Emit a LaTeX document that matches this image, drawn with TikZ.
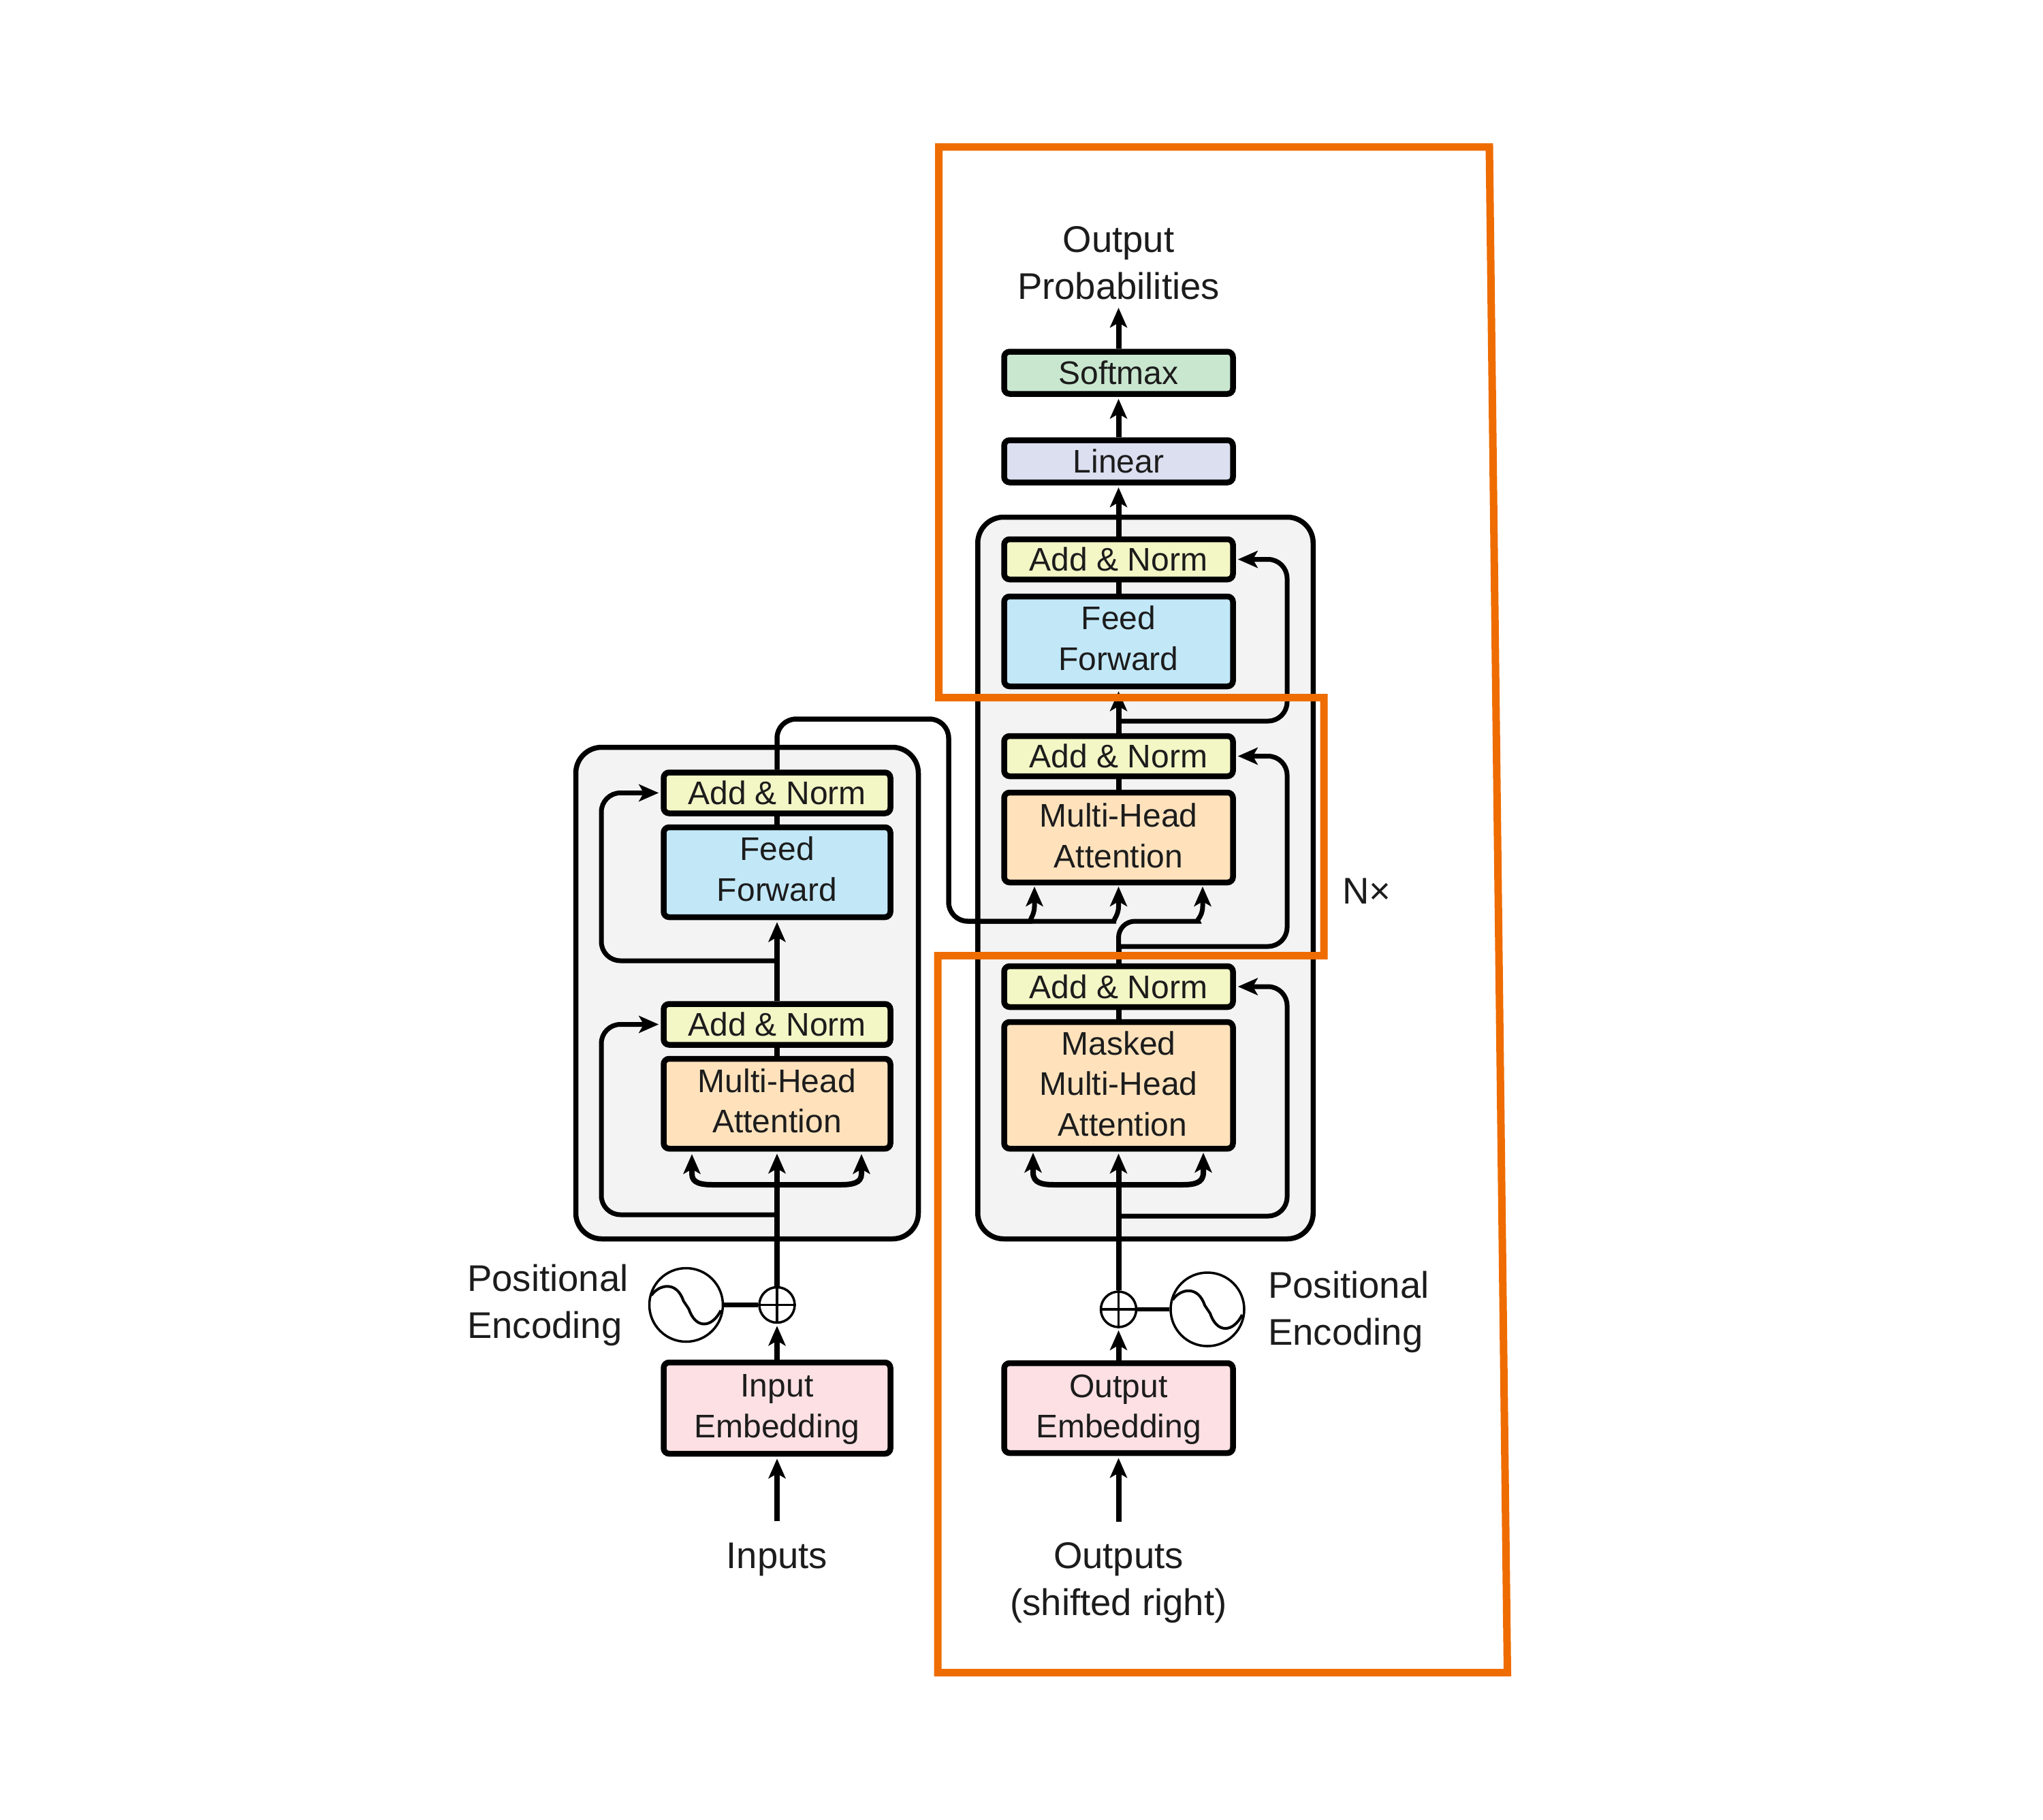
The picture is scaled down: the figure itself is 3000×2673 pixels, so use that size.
\documentclass[tikz,border=0pt]{standalone}
\usepackage{fontspec}
\setmainfont{Liberation Sans}
\usetikzlibrary{arrows.meta,calc}
\definecolor{inkc}{HTML}{1C1C1C}
\definecolor{orangec}{HTML}{EE6C00}
\definecolor{grayc}{HTML}{F3F3F3}
\definecolor{addc}{HTML}{F3F6C5}
\definecolor{ffc}{HTML}{C2E8F8}
\definecolor{mhac}{HTML}{FFE2BC}
\definecolor{embc}{HTML}{FDE0E3}
\definecolor{softc}{HTML}{C9E7CF}
\definecolor{linc}{HTML}{DCDFF0}
\tikzset{
  x=1pt,y=-1pt,
  boxbase/.style={draw=black,line width=8.5pt,rounded corners=8pt,inner sep=0pt,align=center,text=inkc,
    font=\fontsize{48}{59.5}\selectfont},
  decw/.style={boxbase,minimum width=336pt},
  encw/.style={boxbase,minimum width=333pt},
  oneline/.style={minimum height=#1},
  twoline/.style={minimum height=#1,text depth=6pt},
  container/.style={draw=black,fill=grayc,line width=7.5pt,rounded corners=38pt,inner sep=0pt},
  conn/.style={draw=black,line width=8pt,-{Stealth[length=29pt,width=25pt,inset=7pt]},shorten >=3pt},
  plainconn/.style={draw=black,line width=8pt},
  skipconn/.style={draw=black,line width=7pt,rounded corners=28pt,-{Stealth[length=29pt,width=25pt,inset=7pt]},shorten >=3pt},
  thinconn/.style={draw=black,line width=3.5pt},
  sumnode/.style={circle,draw=black,fill=white,line width=3.5pt,minimum size=52pt,inner sep=0pt},
  sinenode/.style={circle,draw=black,fill=white,line width=3.5pt,minimum size=108pt,inner sep=0pt},
  lab/.style={align=center,anchor=base,inner sep=0pt,text=inkc,font=\fontsize{54.5}{69}\selectfont},
  labl/.style={lab,align=left,anchor=base west},
  orangeline/.style={draw=orangec,line width=11pt,miter limit=10}
}
\begin{document}
\begin{tikzpicture}
\useasboundingbox (0,0) rectangle (3000,2673);
\fill[white] (0,0) rectangle (3000,2673);

% containers
\node[container,minimum width=503pt,minimum height=722pt] (encbg) at (1097,1458.5) {};
\node[container,minimum width=492.5pt,minimum height=1060pt] (decbg) at (1682,1289.5) {};

% decoder boxes
\node[decw,fill=softc,oneline=62pt] (softmax) at (1642.5,547.5) {Softmax};
\node[decw,fill=linc,oneline=62pt] (linear) at (1642.5,677.5) {Linear};
\node[decw,fill=addc,oneline=59pt] (dAddC) at (1642.5,821.5) {Add \& Norm};
\node[decw,fill=ffc,minimum height=132pt,text depth=10pt] (dFF) at (1642.5,942) {Feed\\Forward};
\node[decw,fill=addc,oneline=59pt] (dAddB) at (1642.5,1110.5) {Add \& Norm};
\node[decw,fill=mhac,twoline=132pt] (dMHA) at (1642.5,1230) {Multi-Head\\Attention};
\node[decw,fill=addc,oneline=60pt] (dAddA) at (1642.5,1449) {Add \& Norm};
\node[decw,fill=mhac,minimum height=186pt,text depth=5pt] (dMasked) at (1642.5,1594) {Masked\\Multi-Head\\\hspace*{12pt}Attention};
\node[decw,fill=embc,twoline=132pt] (dEmb) at (1642.5,2068) {Output\\Embedding};

% encoder boxes
\node[encw,fill=addc,oneline=60pt] (eAddB) at (1141,1164.5) {Add \& Norm};
\node[encw,fill=ffc,minimum height=132pt,text depth=10pt] (eFF) at (1141,1281) {Feed\\Forward};
\node[encw,fill=addc,oneline=60pt] (eAddA) at (1141,1504.5) {Add \& Norm};
\node[encw,fill=mhac,minimum height=132pt,text depth=9pt] (eMHA) at (1141,1621) {Multi-Head\\Attention};
\node[encw,fill=embc,twoline=134pt] (eEmb) at (1141,2068) {Input\\Embedding};

% positional encoding symbols
\node[sumnode] (eSum) at (1141,1916.5) {};
\node[sumnode] (dSum) at (1642.5,1923) {};
\node[sinenode] (eSine) at (1007.5,1916.5) {};
\node[sinenode] (dSine) at (1773,1923) {};
\foreach \n in {eSum,dSum}{
  \draw[thinconn] (\n.north) -- (\n.south);
  \draw[thinconn] (\n.west) -- (\n.east);
}
\foreach \n in {eSine,dSine}{
  \begin{scope}[shift={(\n)}]
    \draw[thinconn,line width=4pt] (-51,-14) .. controls (-40,-30) and (-14,-36) .. (-4,-6) -- (4,6) .. controls (14,36) and (38,34) .. (51,8);
  \end{scope}
}
\draw[plainconn,line width=7.5pt] (eSine.east) -- (eSum.west);
\draw[plainconn,line width=6pt] (dSum.east) -- (dSine.west);

% free ends and forks
\coordinate (inEnd) at (1141,2234);
\coordinate (outEnd) at (1642.5,2235);
\coordinate (probEnd) at (1642.5,449);
\coordinate (eFork) at (1141,1740);
\coordinate (eSkipA) at (1141,1784);
\coordinate (eSkipB) at (1141,1411);
\coordinate (dFork) at (1642.5,1740);
\coordinate (dSkipA) at (1642.5,1786);
\coordinate (dSkipB) at (1642.5,1390);
\coordinate (dSkipC) at (1642.5,1059);
\coordinate (eTipL) at (1016,1692);
\coordinate (eTipR) at (1265,1692);
\coordinate (dTipL) at (1517,1690);
\coordinate (dTipR) at (1767,1690);
\coordinate (cTipL) at (1519,1299);
\coordinate (cTipM) at (1642.5,1299);
\coordinate (cTipR) at (1766,1299);

% encoder connectors
\draw[conn] (inEnd) -- (eEmb.south);
\draw[conn] (eEmb.north) -- (eSum.south);
\draw[conn] (eSum.north) -- (eMHA.south);
\draw[plainconn] (eMHA.north) -- (eAddA.south);
\draw[conn] (eAddA.north) -- (eFF.south);
\draw[plainconn] (eFF.north) -- (eAddB.south);
\draw[conn] (eFork) -- (1048,1740) .. controls (1030,1740) and (1016,1738) .. (1016,1724) -- (eTipL);
\draw[conn] (eFork) -- (1233,1740) .. controls (1251,1740) and (1265,1738) .. (1265,1724) -- (eTipR);
\draw[skipconn] (eSkipA) -- (883,1784) -- (883,1504.5) -- (eAddA.west);
\draw[skipconn] (eSkipB) -- (883,1411) -- (883,1164.5) -- (eAddB.west);

% encoder to decoder
\draw[skipconn] (eAddB.north) -- (1141,1056) -- (1393,1056) -- (1393,1353) -- (1488,1353) [sharp corners] .. controls (1508,1353) and (1519,1347) .. (1519,1331) -- (cTipL);
\draw[skipconn] (eAddB.north) -- (1141,1056) -- (1393,1056) -- (1393,1353) -- (1611,1353) [sharp corners] .. controls (1631,1353) and (1642.5,1347) .. (1642.5,1331) -- (cTipM);

% decoder connectors
\draw[conn] (outEnd) -- (dEmb.south);
\draw[conn] (dEmb.north) -- (dSum.south);
\draw[conn] (dSum.north) -- (dMasked.south);
\draw[plainconn] (dMasked.north) -- (dAddA.south);
\draw[conn] (dFork) -- (1549,1740) .. controls (1531,1740) and (1517,1738) .. (1517,1722) -- (dTipL);
\draw[conn] (dFork) -- (1735,1740) .. controls (1753,1740) and (1767,1738) .. (1767,1722) -- (dTipR);
\draw[skipconn] (dSkipA) -- (1890,1786) -- (1890,1449) -- (dAddA.east);
\draw[plainconn] (dAddA.north) -- (dSkipB);
\draw[skipconn] (dSkipB) -- (1890,1390) -- (1890,1110.5) -- (dAddB.east);
\draw[skipconn,rounded corners=24pt] (dSkipB) -- (1642.5,1353) -- (1735,1353) [sharp corners] .. controls (1755,1353) and (1766,1347) .. (1766,1331) -- (cTipR);
\draw[plainconn] (dMHA.north) -- (dAddB.south);
\draw[conn] (dAddB.north) -- (dFF.south);
\draw[skipconn] (dSkipC) -- (1890,1059) -- (1890,821.5) -- (dAddC.east);
\draw[plainconn] (dFF.north) -- (dAddC.south);
\draw[conn] (dAddC.north) -- (linear.south);
\draw[conn] (linear.north) -- (softmax.south);
\draw[conn] (softmax.north) -- (probEnd);

% labels
\node[lab] (outprob) at (1642.5,439) {Output\\Probabilities};
\node[lab] (inputs) at (1141,2303) {Inputs};
\node[lab] (outputs) at (1642.5,2372) {Outputs\\(shifted right)};
\node[labl] (ePos) at (686,1965) {Positional\\Encoding};
\node[labl] (dPos) at (1862,1975.5) {Positional\\Encoding};
\node[labl] (nx) at (1971,1327.5) {N×};

% orange outline
\draw[orangeline] (1378.5,216) -- (2187,216) -- (2213.5,2456.5) -- (1377,2456.5) -- (1377,1403.5) -- (1944,1403.5) -- (1944,1024.5) -- (1378.5,1024.5) -- cycle;
\end{tikzpicture}
\end{document}
